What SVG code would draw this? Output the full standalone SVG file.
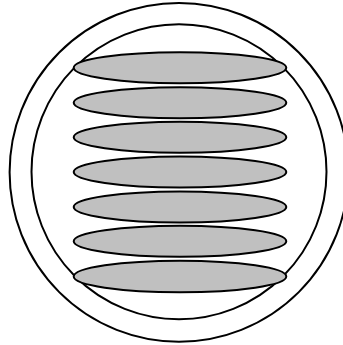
<svg xmlns="http://www.w3.org/2000/svg" width="343" height="345" viewBox="0 0 343 345">
<style>
.ring{fill:none;stroke:#000;stroke-width:2}
.disc{fill:#c0c0c0;stroke:#000;stroke-width:2}
</style>
<rect width="343" height="345" fill="#fff"/>
<g id="outer"><circle class="ring" cx="179" cy="172.3" r="169.4"/></g>
<g id="inner"><circle class="ring" cx="179" cy="171.7" r="147.5"/></g>
<g id="disc1"><ellipse class="disc" cx="180" cy="67.8" rx="106.3" ry="15.5"/></g>
<g id="disc2"><ellipse class="disc" cx="180" cy="102.8" rx="106.3" ry="15.5"/></g>
<g id="disc3"><ellipse class="disc" cx="180" cy="137.3" rx="106.3" ry="15.5"/></g>
<g id="disc4"><ellipse class="disc" cx="180" cy="172" rx="106.3" ry="15.5"/></g>
<g id="disc5"><ellipse class="disc" cx="180" cy="207" rx="106.3" ry="15.5"/></g>
<g id="disc6"><ellipse class="disc" cx="180" cy="241.3" rx="106.3" ry="15.5"/></g>
<g id="disc7"><ellipse class="disc" cx="180" cy="276.5" rx="106.3" ry="15.8"/></g>
<g id="connectors"></g>
</svg>
